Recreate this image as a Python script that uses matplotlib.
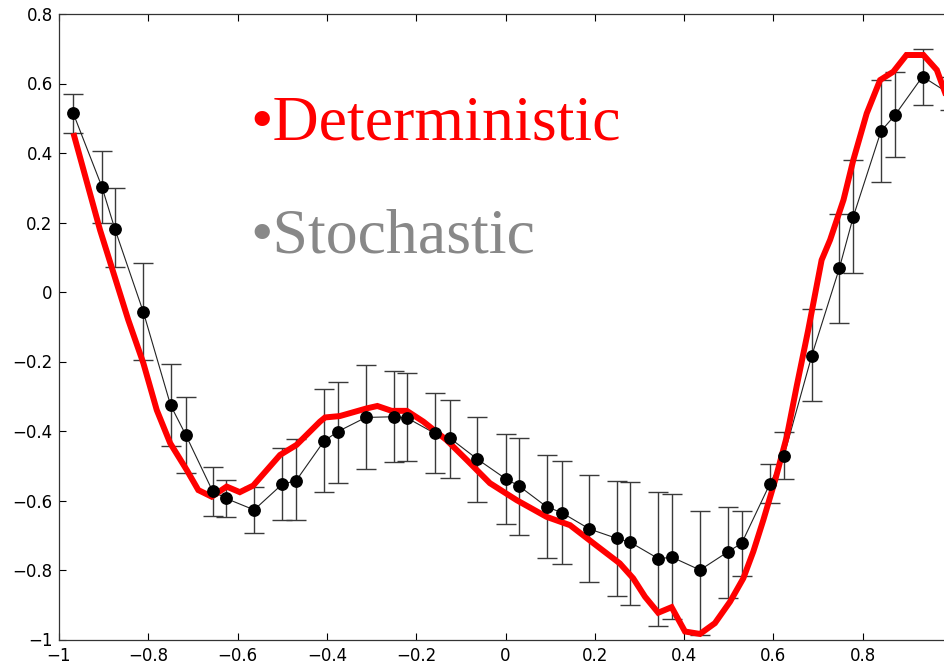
import matplotlib
matplotlib.use("Agg")
import matplotlib.pyplot as plt
import numpy as np

# Stochastic (mean with error bounds)
stoch_x = [-0.968, -0.904, -0.875, -0.811, -0.750, -0.716, -0.656, -0.626, -0.563, -0.500,
           -0.469, -0.4065, -0.376, -0.313, -0.250, -0.221, -0.158, -0.124, -0.063, 0.001,
           0.030, 0.092, 0.126, 0.188, 0.249, 0.279, 0.342, 0.3736, 0.4356, 0.499,
           0.529, 0.592, 0.6237, 0.686, 0.7476, 0.779, 0.841, 0.8723, 0.934, 0.995]
stoch_y = [0.514, 0.303, 0.182, -0.058, -0.326, -0.4115, -0.573, -0.594, -0.627, -0.553,
           -0.543, -0.429, -0.402, -0.361, -0.359, -0.362, -0.407, -0.421, -0.481, -0.538,
           -0.558, -0.618, -0.635, -0.682, -0.709, -0.720, -0.767, -0.7635, -0.800, -0.747,
           -0.723, -0.5525, -0.471, -0.183, 0.068, 0.217, 0.463, 0.509, 0.620, 0.570]
stoch_lo = [0.458, 0.200, 0.071, -0.196, -0.443, -0.522, -0.645, -0.647, -0.694, -0.656,
            -0.656, -0.5765, -0.550, -0.509, -0.488, -0.485, -0.520, -0.536, -0.603, -0.669,
            -0.699, -0.766, -0.784, -0.835, -0.874, -0.901, -0.960, -0.940, -0.987, -0.880,
            -0.816, -0.608, -0.539, -0.313, -0.090, 0.056, 0.3155, 0.389, 0.538, 0.524]
stoch_hi = [0.570, 0.406, 0.298, 0.0825, -0.208, -0.301, -0.503, -0.541, -0.560, -0.450,
            -0.424, -0.279, -0.258, -0.210, -0.227, -0.234, -0.292, -0.311, -0.361, -0.409,
            -0.419, -0.468, -0.485, -0.526, -0.543, -0.546, -0.575, -0.581, -0.630, -0.618,
            -0.630, -0.496, -0.402, -0.050, 0.2245, 0.380, 0.610, 0.632, 0.698, 0.620]

# Deterministic curve
det_x = [-0.966, -0.908, -0.845, -0.811, -0.781, -0.751, -0.714, -0.688, -0.658, -0.6245,
         -0.595, -0.565, -0.505, -0.468, -0.4155, -0.404, -0.371, -0.311, -0.287, -0.255,
         -0.221, -0.184, -0.132, -0.087, -0.035, 0.025, 0.092, 0.1445, 0.197, 0.256,
         0.286, 0.3125, 0.342, 0.372, 0.402, 0.4356, 0.469, 0.503, 0.5326, 0.555,
         0.5775, 0.604, 0.63, 0.652, 0.678, 0.708, 0.727, 0.757, 0.779, 0.809,
         0.839, 0.8686, 0.898, 0.936, 0.966, 0.985, 1.0]
det_y = [0.449, 0.178, -0.08, -0.205, -0.340, -0.435, -0.512, -0.570, -0.589, -0.560,
         -0.576, -0.557, -0.469, -0.440, -0.373, -0.361, -0.357, -0.335, -0.328, -0.342,
         -0.342, -0.373, -0.426, -0.483, -0.550, -0.599, -0.647, -0.671, -0.723, -0.781,
         -0.824, -0.877, -0.923, -0.907, -0.977, -0.984, -0.953, -0.891, -0.824, -0.747,
         -0.656, -0.541, -0.416, -0.272, -0.109, 0.092, 0.150, 0.265, 0.380, 0.514,
         0.610, 0.634, 0.682, 0.682, 0.639, 0.572, 0.50]

x_ticks = [-1, -0.8, -0.6, -0.4, -0.2, 0, 0.2, 0.4, 0.6, 0.8]
y_ticks = [-1, -0.8, -0.6, -0.4, -0.2, 0, 0.2, 0.4, 0.6, 0.8]
tick_labels = ['\u22121', '\u22120.8', '\u22120.6', '\u22120.4', '\u22120.2', '0', '0.2', '0.4', '0.6', '0.8']

W, H = 945, 665
fig = plt.figure(figsize=(W / 100, H / 100), dpi=100)
ax = fig.add_axes([59 / W, (H - 639.5) / H, 893 / W, 625.5 / H])

sx = np.array(stoch_x)
sy = np.array(stoch_y)
yerr = np.vstack([sy - np.array(stoch_lo), np.array(stoch_hi) - sy])

ax.errorbar(sx, sy, yerr=yerr, fmt='none', ecolor='#3a3a3a', elinewidth=1.0,
            capsize=7, capthick=1.0, zorder=2)
ax.plot(sx, sy, color='#222222', lw=0.8, zorder=3)
ax.plot(det_x, det_y, color='#ff0000', lw=4.3, solid_joinstyle='miter', zorder=4)
ax.plot(sx, sy, 'o', color='black', ms=8.2, zorder=5)

ax.set_xlim(-1, 1)
ax.set_ylim(-1, 0.8)
ax.set_xticks(x_ticks)
ax.set_yticks(y_ticks)
ax.set_xticklabels(tick_labels)
ax.set_yticklabels(tick_labels)
ax.tick_params(direction='in', top=True, right=True, length=5, width=0.8,
               labelsize=12, colors='black')
ax.tick_params(axis='x', pad=5.5)
ax.tick_params(axis='y', pad=4.5)
for lab in ax.get_xticklabels() + ax.get_yticklabels():
    lab.set_fontfamily('DejaVu Sans')
for s in ax.spines.values():
    s.set_linewidth(0.9)
    s.set_color('#333333')

fig.text(250 / W, (H - 139) / H, '\u2022Deterministic', color='#ff0000',
         fontsize=46, family='Liberation Serif', va='baseline', ha='left')
fig.text(250 / W, (H - 253) / H, '\u2022Stochastic', color='#888888',
         fontsize=46, family='Liberation Serif', va='baseline', ha='left')

fig.savefig('out.png', dpi=100)
